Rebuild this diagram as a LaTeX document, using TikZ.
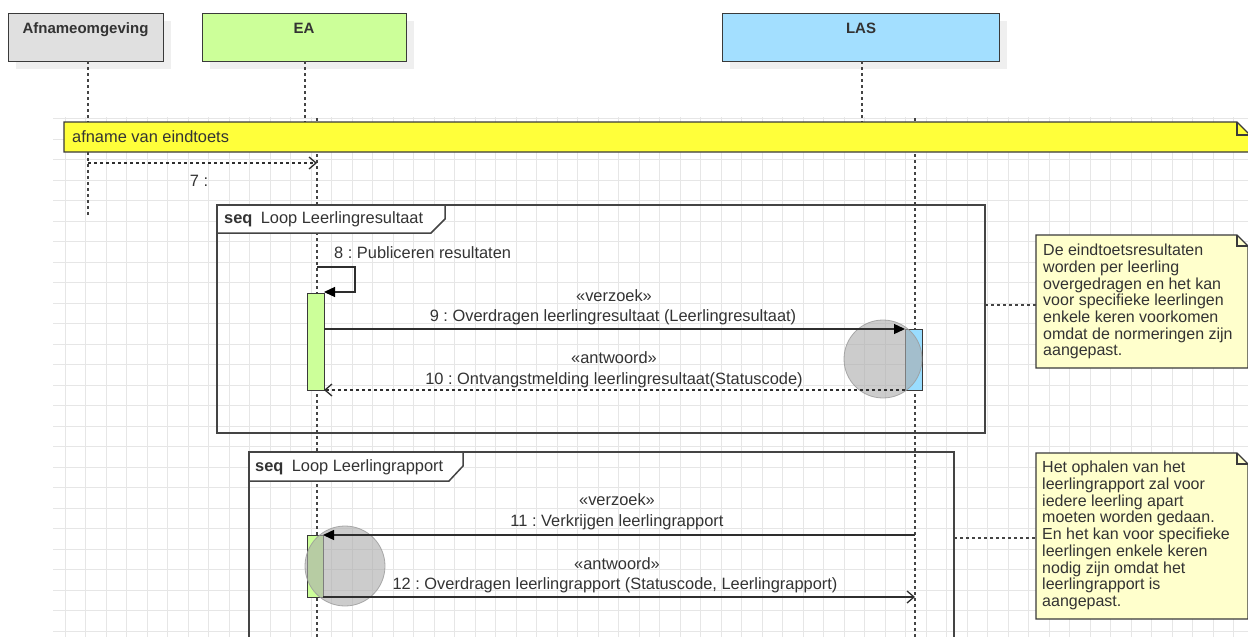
\documentclass[tikz,border=0pt]{standalone}
\usepackage{fontspec}
\setmainfont{Liberation Sans}
\usetikzlibrary{arrows.meta}
\frenchspacing
\definecolor{textC}{HTML}{333333}
\definecolor{boxC}{HTML}{3A3A3A}
\definecolor{lineC}{HTML}{2E2E2E}
\definecolor{lifeC}{HTML}{444444}
\definecolor{frameC}{HTML}{444444}
\definecolor{gridC}{HTML}{E6E6E6}
\definecolor{shadowC}{HTML}{EFEFEF}
\definecolor{afnC}{HTML}{E0E0E0}
\definecolor{eaC}{HTML}{CCFF99}
\definecolor{lasC}{HTML}{A3DFFF}
\definecolor{lasAct}{HTML}{99DDFF}
\definecolor{barC}{HTML}{FFFF3A}
\definecolor{noteC}{HTML}{FFFFCC}
\definecolor{circF}{HTML}{AAAAAA}
\definecolor{circD}{HTML}{9A9A9A}
\begin{document}
\begin{tikzpicture}[x=1pt,y=-1pt,
  txt/.style={font=\fontsize{16.4}{19}\selectfont, text=textC, inner sep=0pt},
  btxt/.style={font=\fontsize{15}{18}\selectfont\bfseries, text=textC, inner sep=0pt},
  partbox/.style={draw=boxC, line width=1.3pt, anchor=north west, inner sep=0pt},
  life/.style={draw=lifeC, line width=1.3pt, dash pattern=on 3pt off 3pt},
  msgline/.style={draw=lineC, line width=1.3pt},
  synctip/.style={-{Triangle[length=11pt,width=10pt,color=black]}},
  opentip/.style={-{Straight Barb[length=7pt,width=12pt]}},
  msgdash/.style={dash pattern=on 3pt off 3pt},
  framebox/.style={draw=frameC, line width=1.5pt},
  actbox/.style={draw=boxC, line width=1.3pt, anchor=north west, inner sep=0pt, minimum width=17pt},
  notebox/.style={fill=noteC, draw=boxC, line width=1.3pt, line join=miter},
  notetxt/.style={font=\fontsize{16}{16.7}\selectfont, text=textC, inner sep=0pt, align=left, anchor=north west},
  circ/.style={fill=circF, fill opacity=0.6, draw=circD, draw opacity=0.8, line width=0.8pt},
  gridl/.style={draw=gridC, line width=0.7pt},
  notelink/.style={draw=lifeC, line width=1.2pt, dash pattern=on 3pt off 3pt}]
\useasboundingbox (0,0) rectangle (1248,637);
\fill[white] (0,0) rectangle (1248,637);
% grid
\foreach \gx in {0,...,58} {\draw[gridl] ({65.3+20.5*\gx},117) -- ({65.3+20.5*\gx},637);}
\foreach \gy in {0,...,25} {\draw[gridl] (53,{118.7+20.5*\gy}) -- (1248,{118.7+20.5*\gy});}
% participants
\fill[shadowC] (16,21) rectangle (171,69);
\fill[shadowC] (210,21) rectangle (414,69);
\fill[shadowC] (730,21) rectangle (1007,69);
\node[partbox, fill=afnC, minimum width=155pt, minimum height=48pt] (afn) at (8,13) {};
\node[partbox, fill=eaC, minimum width=204pt, minimum height=48pt] (ea) at (202,13) {};
\node[partbox, fill=lasC, minimum width=277pt, minimum height=48pt] (las) at (722,13) {};
\node[btxt, anchor=base] (afnT) at (85.5,33) {Afnameomgeving};
\node[btxt, anchor=base] (eaT) at (304,33) {EA};
\node[btxt, anchor=base] (lasT) at (861,33) {LAS};
% lifelines
\coordinate (afnTop) at (88,61);
\coordinate (afnMid) at (88,152);
\coordinate (afnEnd) at (88,215);
\coordinate (eaTop) at (305,61);
\coordinate (eaBarTop) at (305,122);
\coordinate (lasTop) at (862,61);
\coordinate (lasBarTop) at (862,122);
\coordinate (eaLow) at (317,118);
\coordinate (eaLowEnd) at (317,640);
\coordinate (lasLow) at (915,118);
\coordinate (lasLowEnd) at (915,640);
\draw[life] (afnTop) -- (88,122);
\draw[life] (afnMid) -- (afnEnd);
\draw[life] (eaTop) -- (eaBarTop);
\draw[life] (lasTop) -- (lasBarTop);
\draw[life] (eaLow) -- (eaLowEnd);
\draw[life] (lasLow) -- (lasLowEnd);
% yellow bar
\filldraw[fill=barC, draw=boxC, line width=1.3pt] (64,122) -- (1237,122) -- (1250,135) -- (1250,152) -- (64,152) -- cycle;
\draw[draw=boxC, line width=1.3pt] (1237,122) -- (1237,135) -- (1250,135);
\node[txt, anchor=base west] (barT) at (72,142) {afname van eindtoets};
% message 7
\coordinate (m7s) at (88,163);
\coordinate (m7e) at (317,163);
\draw[msgline, msgdash, opentip] (m7s) -- (m7e);
\node[txt, anchor=base] (m7T) at (199,186) {7 :};
% frame 1
\draw[framebox] (217,205) rectangle (985,433);
\filldraw[framebox, fill=white] (217,205) -- (445,205) -- (445,219) -- (431,233) -- (217,233) -- cycle;
\node[txt, anchor=base west] (f1T) at (224,223.5) {\textbf{seq}\hspace{8.4pt}Loop Leerlingresultaat};
% frame 2
\draw[framebox] (249,645) -- (249,452) -- (954,452) -- (954,645);
\filldraw[framebox, fill=white] (249,452) -- (463,452) -- (463,466) -- (449,481) -- (249,481) -- cycle;
\node[txt, anchor=base west] (f2T) at (255,471.5) {\textbf{seq}\hspace{8.4pt}Loop Leerlingrapport};
% activations
\node[actbox, fill=eaC, minimum height=97pt] (act1) at (307,293) {};
\node[actbox, fill=lasAct, minimum height=61pt] (act2) at (905,329) {};
\node[actbox, fill=eaC, minimum width=16pt, minimum height=62pt] (act3) at (307,535) {};
% highlight circles
\filldraw[circ] (883,359) circle[radius=39];
\filldraw[circ] (345,566) circle[radius=40];
% message 8 (self)
\coordinate (m8s) at (317,267);
\coordinate (m8a) at (355,267);
\coordinate (m8b) at (355,292);
\coordinate (m8e) at (324,292);
\draw[msgline, synctip] (m8s) -- (m8a) -- (m8b) -- (m8e);
\node[txt, anchor=base west] (m8T) at (334,258.5) {8 : Publiceren resultaten};
% message 9
\coordinate (m9s) at (324,329);
\coordinate (m9e) at (905,329);
\draw[msgline, synctip] (m9s) -- (m9e);
\node[txt, anchor=base] (m9S) at (614,301) {«verzoek»};
\node[txt, anchor=base] (m9T) at (613,321) {9 : Overdragen leerlingresultaat (Leerlingresultaat)};
% message 10
\coordinate (m10s) at (905,390);
\coordinate (m10e) at (324,390);
\draw[msgline, msgdash, opentip] (m10s) -- (m10e);
\node[txt, anchor=base] (m10S) at (614,363.5) {«antwoord»};
\node[txt, anchor=base] (m10T) at (614,384) {10 : Ontvangstmelding leerlingresultaat(Statuscode)};
% message 11
\coordinate (m11s) at (915,535);
\coordinate (m11e) at (323,535);
\draw[msgline, synctip] (m11s) -- (m11e);
\node[txt, anchor=base] (m11S) at (617,505.5) {«verzoek»};
\node[txt, anchor=base] (m11T) at (617,526) {11 : Verkrijgen leerlingrapport};
% message 12
\coordinate (m12s) at (323,597);
\coordinate (m12e) at (915,597);
\draw[msgline, opentip] (m12s) -- (m12e);
\node[txt, anchor=base] (m12S) at (617,569) {«antwoord»};
\node[txt, anchor=base] (m12T) at (615,589.5) {12 : Overdragen leerlingrapport (Statuscode, Leerlingrapport)};
% notes
\filldraw[notebox] (1036,235) -- (1237,235) -- (1248,246) -- (1248,368) -- (1036,368) -- cycle;
\draw[draw=boxC, line width=1.3pt] (1237,235) -- (1237,246) -- (1248,246);
\node[notetxt] (n1) at (1043,244) {De eindtoetsresultaten\\worden per leerling\\overgedragen en het kan\\voor specifieke leerlingen\\enkele keren voorkomen\\omdat de normeringen zijn\\aangepast.};
\filldraw[notebox] (1036,453) -- (1237,453) -- (1248,464) -- (1248,619) -- (1036,619) -- cycle;
\draw[draw=boxC, line width=1.3pt] (1237,453) -- (1237,464) -- (1248,464);
\node[notetxt] (n2) at (1042,461) {Het ophalen van het\\leerlingrapport zal voor\\iedere leerling apart\\moeten worden gedaan.\\En het kan voor specifieke\\leerlingen enkele keren\\nodig zijn omdat het\\leerlingrapport is\\aangepast.};
\coordinate (f1R) at (985,305);
\coordinate (n1L) at (1036,305);
\coordinate (f2R) at (954,538);
\coordinate (n2L) at (1036,538);
\draw[notelink] (f1R) -- (n1L);
\draw[notelink] (f2R) -- (n2L);
\end{tikzpicture}
\end{document}
